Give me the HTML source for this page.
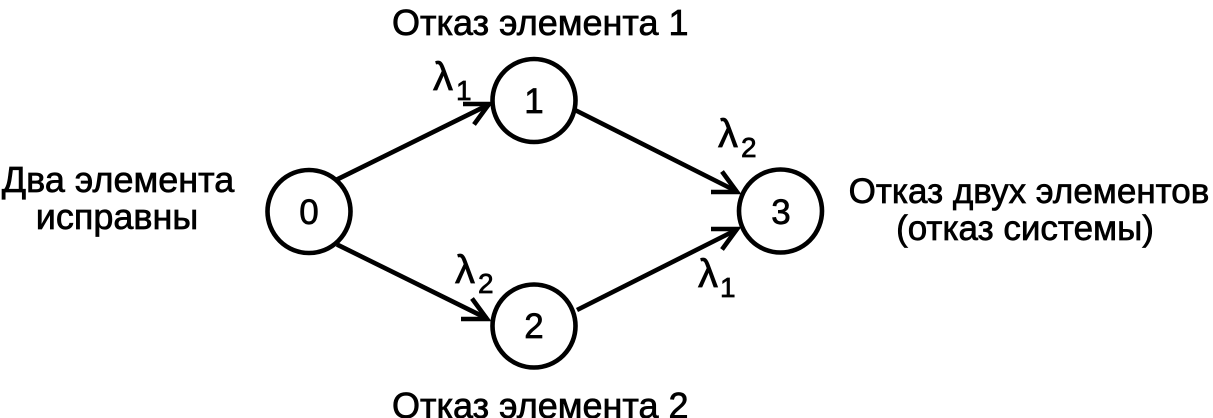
<!DOCTYPE html>
<html>
<head>
<meta charset="utf-8">
<style>
  html, body { margin: 0; padding: 0; background: #fff; }
  body { width: 1213px; height: 418px; overflow: hidden; }
  svg { display: block; }
  text { font-family: "Liberation Sans", Arial, sans-serif; fill: #000; stroke: #000; stroke-width: 0.7px; }
</style>
</head>
<body>
<svg width="1213" height="418" viewBox="0 0 1213 418" xmlns="http://www.w3.org/2000/svg">
  <rect width="1213" height="418" fill="#fff"/>

  <!-- connectors -->
  <g stroke="#000" stroke-width="4.6" fill="none" stroke-linecap="butt" stroke-linejoin="miter">
    <line x1="337" y1="179.5" x2="489" y2="104.5"/>
    <line x1="337" y1="244.5" x2="487" y2="318.5"/>
    <line x1="575" y1="110" x2="737" y2="191.5"/>
    <line x1="577" y1="310" x2="737" y2="229.5"/>

    <polyline points="463,104 489,104 474,124.5"/>
    <polyline points="461,319 487,319 472,298.5"/>
    <polyline points="711,192 737,192 722,171.5"/>
    <polyline points="711,229 737,229 722,249.5"/>
  </g>

  <!-- nodes -->
  <g stroke="#000" stroke-width="4.6" fill="#fff">
    <circle cx="309" cy="211.5" r="41.5"/>
    <circle cx="534" cy="100.5" r="41.5"/>
    <circle cx="534" cy="326" r="41.5"/>
    <circle cx="780.5" cy="211" r="41.5"/>
  </g>

  <g font-size="35" text-anchor="middle">
    <text x="309" y="224">0</text>
    <text x="534" y="113">1</text>
    <text x="534" y="338">2</text>
    <text x="781" y="224">3</text>
  </g>

  <!-- lambda labels -->
  <g>
    <text x="433" y="90" font-size="40">λ</text>
    <text x="456" y="100" font-size="28">1</text>

    <text x="718" y="147" font-size="40">λ</text>
    <text x="741" y="157" font-size="28">2</text>

    <text x="698" y="287" font-size="40">λ</text>
    <text x="720" y="297" font-size="28">1</text>

    <text x="455" y="283" font-size="40">λ</text>
    <text x="478" y="293" font-size="28">2</text>
  </g>

  <!-- state descriptions -->
  <g font-size="36">
    <text x="392" y="35">Отказ элемента 1</text>
    <text x="392" y="418">Отказ элемента 2</text>
    <text x="118" y="192" text-anchor="middle">Два элемента</text>
    <text x="117" y="229" text-anchor="middle">исправны</text>
    <text x="1029" y="203" text-anchor="middle" font-size="35">Отказ двух элементов</text>
    <text x="1025" y="240" text-anchor="middle" font-size="35">(отказ системы)</text>
  </g>
</svg>
</body>
</html>
